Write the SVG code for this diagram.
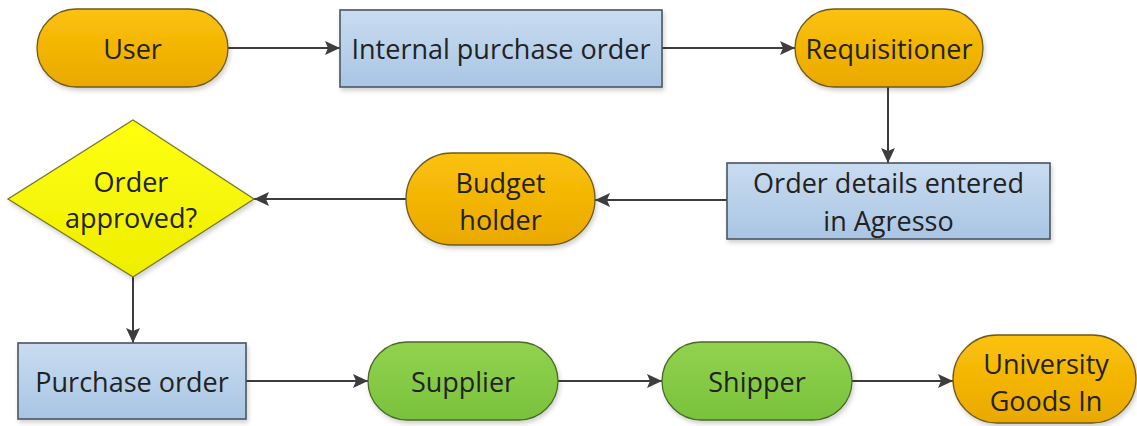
<svg xmlns="http://www.w3.org/2000/svg" width="1137" height="426" viewBox="0 0 1137 426">
<defs>
<linearGradient id="gOrange" x1="0" y1="0" x2="0" y2="1">
<stop offset="0" stop-color="#fbc20a"/>
<stop offset="1" stop-color="#eaa800"/>
</linearGradient>
<linearGradient id="gBlue" x1="0" y1="0" x2="0" y2="1">
<stop offset="0" stop-color="#c9dcf0"/>
<stop offset="1" stop-color="#a9c5e4"/>
</linearGradient>
<linearGradient id="gGreen" x1="0" y1="0" x2="0" y2="1">
<stop offset="0" stop-color="#92d24e"/>
<stop offset="1" stop-color="#79c23c"/>
</linearGradient>
<linearGradient id="gYellow" x1="0" y1="0" x2="0" y2="1">
<stop offset="0" stop-color="#ffff10"/>
<stop offset="1" stop-color="#eeee00"/>
</linearGradient>
<filter id="sh" x="-10%" y="-10%" width="130%" height="140%">
<feDropShadow dx="1.5" dy="3" stdDeviation="2" flood-color="#000" flood-opacity="0.18"/>
</filter>
<marker id="arr" markerUnits="userSpaceOnUse" markerWidth="16" markerHeight="14" refX="15" refY="7" orient="auto">
<path d="M0,0 L15,7 L0,14 L3,7 z" fill="#3d3d3d"/>
</marker>
</defs>
<style>
.orange{fill:url(#gOrange);stroke:#6e5a1c;stroke-width:1.3;filter:url(#sh)}
.blue{fill:url(#gBlue);stroke:#4b5560;stroke-width:1.6;filter:url(#sh)}
.green{fill:url(#gGreen);stroke:#4a6a2a;stroke-width:1.3;filter:url(#sh)}
.yellow{fill:url(#gYellow);stroke:#77772a;stroke-width:1.3;filter:url(#sh)}
.t{font-family:"Open Sans","Liberation Sans",sans-serif;font-size:27px;fill:#222;text-anchor:middle;dominant-baseline:central}
.c{fill:none;stroke:#3d3d3d;stroke-width:2;marker-end:url(#arr)}
</style>
<g id="connectors">
<path class="c" d="M228,48 H340"/>
<path class="c" d="M662,48 H795"/>
<path class="c" d="M888,87 V163"/>
<path class="c" d="M727,200 H595"/>
<path class="c" d="M406,199 H254"/>
<path class="c" d="M133,277 V343"/>
<path class="c" d="M246,381 H368"/>
<path class="c" d="M558,381 H662"/>
<path class="c" d="M852,381 H953"/>
</g>
<g id="user">
<rect class="orange" x="37" y="9" width="191" height="78" rx="39"/>
<text class="t" x="132.5" y="48">User</text>
</g>
<g id="internal-po">
<rect class="blue" x="340" y="10" width="322" height="77"/>
<text class="t" x="501" y="48">Internal purchase order</text>
</g>
<g id="requisitioner">
<rect class="orange" x="795" y="9" width="188" height="78" rx="39"/>
<text class="t" x="889" y="48">Requisitioner</text>
</g>
<g id="order-details">
<rect class="blue" x="727" y="163" width="323" height="76"/>
<text class="t" x="888.5" y="182">Order details entered</text>
<text class="t" x="888.5" y="220">in Agresso</text>
</g>
<g id="budget-holder">
<rect class="orange" x="406" y="153" width="189" height="92" rx="46"/>
<text class="t" x="500.5" y="182">Budget</text>
<text class="t" x="500.5" y="219">holder</text>
</g>
<g id="order-approved">
<polygon class="yellow" points="133,120 254,199 133,277 8,199"/>
<text class="t" x="131" y="181">Order</text>
<text class="t" x="131" y="217">approved?</text>
</g>
<g id="purchase-order">
<rect class="blue" x="18" y="343" width="228" height="76"/>
<text class="t" x="132" y="381">Purchase order</text>
</g>
<g id="supplier">
<rect class="green" x="368" y="342" width="190" height="78" rx="39"/>
<text class="t" x="463" y="381">Supplier</text>
</g>
<g id="shipper">
<rect class="green" x="662" y="342" width="190" height="78" rx="39"/>
<text class="t" x="757" y="381">Shipper</text>
</g>
<g id="university-goods-in">
<rect class="orange" x="953" y="335" width="183" height="88" rx="44"/>
<text class="t" x="1046" y="363">University</text>
<text class="t" x="1046" y="400">Goods In</text>
</g>
</svg>
